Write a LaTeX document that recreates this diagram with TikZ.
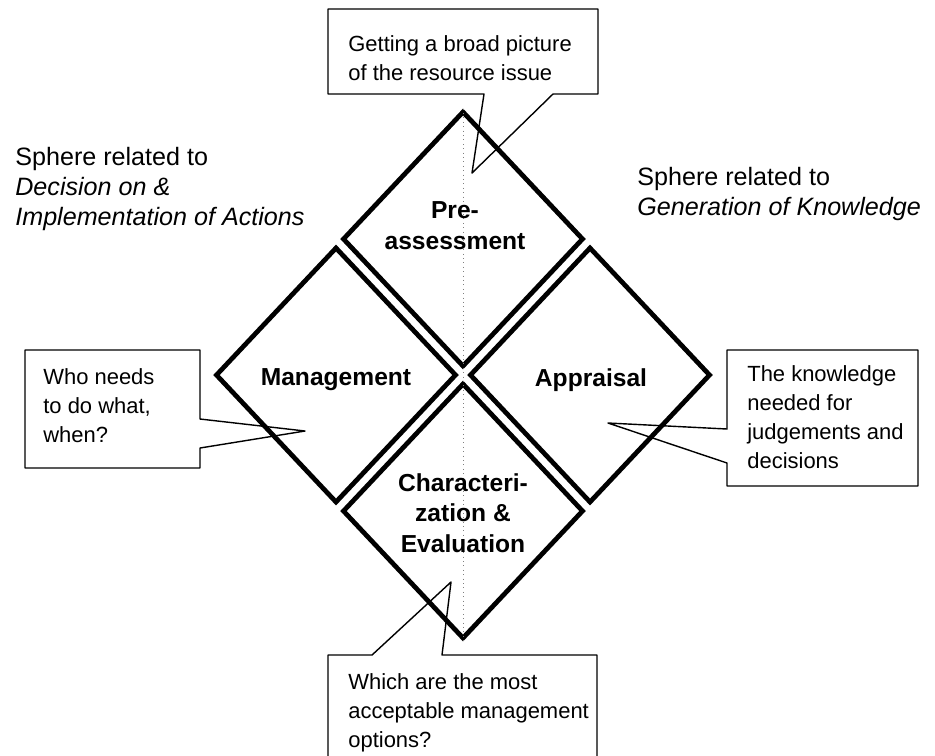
\documentclass[tikz,border=0pt]{standalone}
\usepackage{fontspec}
\setmainfont{Liberation Sans}
\usepackage{tikz}
\usetikzlibrary{shapes.geometric}

\begin{document}
\begin{tikzpicture}[x=0.02cm, y=-0.02cm,
        phase/.style={diamond, draw, line width=2.7pt, minimum width=4.82cm, minimum height=5.12cm, inner sep=0pt},
        phasetext/.style={align=center, inner sep=0pt, font=\fontsize{14}{17.5}\selectfont\bfseries},
        calloutline/.style={line width=0.8pt, line join=round},
        notetext/.style={anchor=base west, align=left, inner sep=0pt, font=\fontsize{12.5}{16.4}\selectfont},
        spheretext/.style={anchor=base west, align=left, inner sep=0pt, font=\fontsize{14.3}{17}\selectfont}]
        \clip (0,0) rectangle (935,755);

        % The four phases
        \foreach \name/\x/\y in {pre/463/239, man/336/375, app/590/375, char/463/511} {
            \node[phase] (\name) at (\x,\y) {};
        }
        \draw[dotted, gray, line width=0.5pt] (pre.north) -- (char.south);
        \node[phasetext] (pretext) at (455,226) {Pre-\\assessment};
        \node[phasetext] (mantext) at (336,380) {Management};
        \node[phasetext] (apptext) at (591,380) {Appraisal};
        \node[phasetext] (chartext) at (463,513) {Characteri-\\zation \&\\Evaluation};

        % Spheres (base = last line)
        \node[spheretext] (actions) at (15,225) {Sphere related to\\\textit{Decision on \&}\\\textit{Implementation of Actions}};
        \node[spheretext] (knowledge) at (637,215) {Sphere related to\\\textit{Generation of Knowledge}};

        % Callouts
        \draw[calloutline] (328,9) -- (598,9) -- (598,94) -- (553,94) -- (472,173) -- (484,94) -- (328,94) -- cycle;
        \node[notetext] (prenote) at (348,80) {Getting a broad picture\\of the resource issue};

        \draw[calloutline] (25,350) -- (200,350) -- (200,419) -- (305,431) -- (200,448) -- (200,468) -- (25,468) -- cycle;
        \node[notetext] (mannote) at (43,442) {Who needs\\to do what,\\when?};

        \draw[calloutline] (727,350) -- (918,350) -- (918,486) -- (727,486) -- (727,463) -- (608,423) -- (727,429) -- cycle;
        \node[notetext] (appnote) at (747,468) {The knowledge\\needed for\\judgements and\\decisions};

        \draw[calloutline] (328,775) -- (328,655) -- (372,655) -- (451,582) -- (442,655) -- (597,655) -- (597,775);
        \node[notetext] (charnote) at (348,747) {Which are the most\\acceptable management\\options?};

    \end{tikzpicture}
\end{document}
